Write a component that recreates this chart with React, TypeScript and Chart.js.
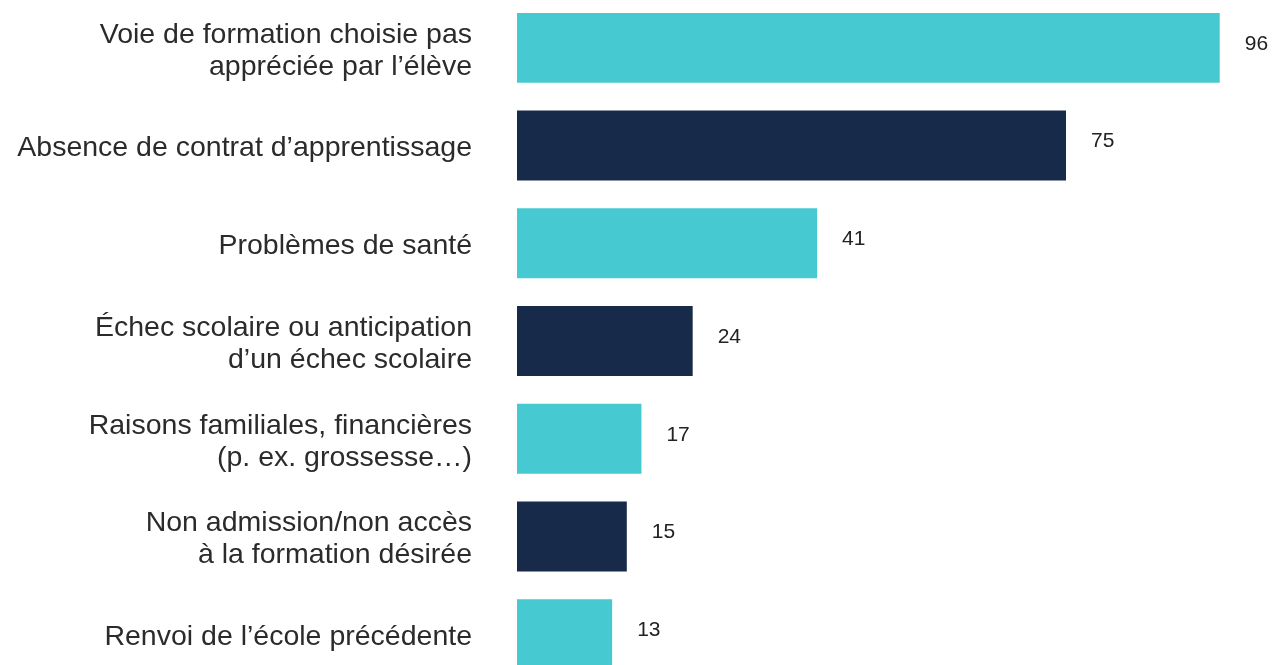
import React, { useEffect, useRef } from "react";
import { Chart, registerables } from "chart.js";

Chart.register(...registerables);

const categories: string[][] = [
  ["Voie de formation choisie pas", "appréciée par l’élève"],
  ["Absence de contrat d’apprentissage"],
  ["Problèmes de santé"],
  ["Échec scolaire ou anticipation", "d’un échec scolaire"],
  ["Raisons familiales, financières", "(p. ex. grossesse…)"],
  ["Non admission/non accès", "à la formation désirée"],
  ["Renvoi de l’école précédente"],
];
const values: number[] = [96, 75, 41, 24, 17, 15, 13];
const TEAL = "#47C9D1";
const NAVY = "#172A4A";
const barColors: string[] = values.map((_, i) => (i % 2 === 0 ? TEAL : NAVY));

const valueLabels = {
  id: "valueLabels",
  afterDatasetsDraw(chart: any) {
    const ctx = chart.ctx;
    const meta = chart.getDatasetMeta(0);
    ctx.save();
    ctx.font = "21px 'Liberation Sans', Arial, sans-serif";
    ctx.fillStyle = "#222222";
    ctx.textAlign = "left";
    ctx.textBaseline = "middle";
    meta.data.forEach((bar: any, i: number) => {
      ctx.fillText(String(values[i]), bar.x + 25, bar.y - 4);
    });
    ctx.restore();
  },
};

export default function App() {
  const ref = useRef<HTMLCanvasElement>(null);
  useEffect(() => {
    if (!ref.current) return;
    const chart = new Chart(ref.current, {
      type: "bar",
      data: {
        labels: categories as any,
        datasets: [
          {
            data: values,
            backgroundColor: barColors,
            borderWidth: 0,
            barPercentage: 0.716,
            categoryPercentage: 1,
          },
        ],
      },
      options: {
        indexAxis: "y",
        responsive: false,
        animation: false,
        layout: { padding: { left: 0, right: 27, top: 0, bottom: 0 } },
        plugins: { legend: { display: false }, tooltip: { enabled: false } },
        scales: {
          x: { display: false, min: 0, max: 100 },
          y: {
            grid: { display: false, drawTicks: false },
            border: { display: false },
            ticks: {
              padding: 45,
              labelOffset: 3,
              color: "#2b2b2b",
              font: { family: "'Liberation Sans', Arial, sans-serif", size: 28.5, lineHeight: 1.12 },
            },
            afterFit(scale: any) {
              scale.width = 517;
              scale.paddingTop = 0;
              scale.paddingBottom = 0;
            },
          },
        },
      },
      plugins: [valueLabels],
    });
    return () => chart.destroy();
  }, []);
  return (
    <div style={{ position: "fixed", top: 0, left: 0, width: 1276, height: 665, overflow: "hidden", background: "#fff" }}>
      <canvas ref={ref} width={1276} height={684} style={{ position: "absolute", top: -1, left: 0, display: "block" }} />
    </div>
  );
}
